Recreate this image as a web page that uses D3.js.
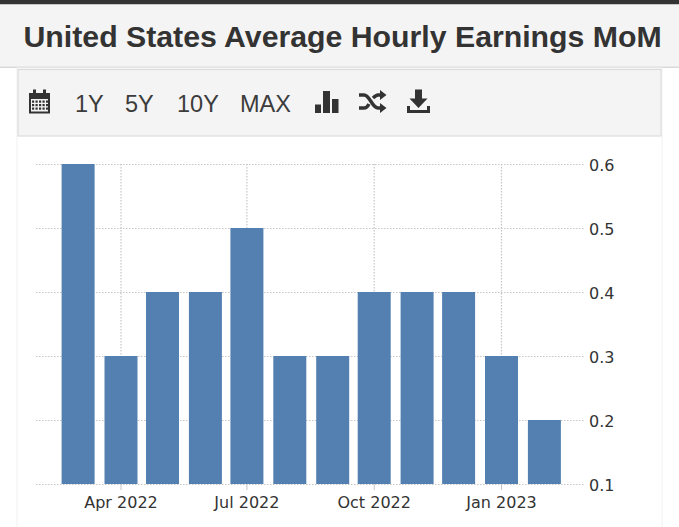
<!DOCTYPE html>
<html><head><meta charset="utf-8">
<script src="https://cdn.jsdelivr.net/npm/d3@7"></script>
<style>html,body{margin:0;padding:0;background:#fff}svg{display:block}</style></head>
<body><svg id="c" width="679" height="527"></svg>
<script>
const titleText = "United States Average Hourly Earnings MoM";
const rangeLabels = ["1Y","5Y","10Y","MAX"];
const months = ["2022-03","2022-04","2022-05","2022-06","2022-07","2022-08","2022-09","2022-10","2022-11","2022-12","2023-01","2023-02"];
const values = [0.6,0.3,0.4,0.4,0.5,0.3,0.3,0.4,0.4,0.4,0.3,0.2];
const yTicks = [0.1,0.2,0.3,0.4,0.5,0.6];
const xTickDates = ["2022-04","2022-07","2022-10","2023-01"];
const xTickLabels = ["Apr 2022","Jul 2022","Oct 2022","Jan 2023"];

const parse = d3.utcParse("%Y-%m");
const svg = d3.select("#c");
const ink = "#333333";

svg.append("rect").attr("width",679).attr("height",4.5).attr("fill","#333");
svg.append("rect").attr("y",4.5).attr("width",679).attr("height",62).attr("fill","#f4f4f4");
svg.append("rect").attr("y",66.5).attr("width",679).attr("height",1.5).attr("fill","#d8d8d8");
svg.append("text").attr("x",23.5).attr("y",47).attr("font-family","Liberation Sans")
  .attr("font-weight",700).attr("font-size",30.25).attr("fill",ink).text(titleText);

// panel edges
svg.append("rect").attr("x",17).attr("y",68).attr("width",645).attr("height",470)
  .attr("fill","#fff").attr("stroke","#f1f1f1");
// toolbar
svg.append("rect").attr("x",18).attr("y",69.5).attr("width",643).attr("height",66.5)
  .attr("fill","#f4f4f4").attr("stroke","#dcdcdc").attr("stroke-width",1.2);

const rangeX = [75,125,177,240];
svg.append("g").selectAll("text").data(rangeLabels).join("text")
  .attr("x",(d,i)=>rangeX[i]).attr("y",111.5)
  .attr("font-family","Liberation Sans").attr("font-size",23.5).attr("fill","#3c3c3c").text(d=>d);

// toolbar icons
const icons = svg.append("g").attr("fill",ink);
// calendar
icons.append("path").attr("fill-rule","evenodd").attr("d",
  "M29 93h21v20.5H29z M31 99v12.5h17V99z");
icons.append("rect").attr("x",33).attr("y",89.5).attr("width",3).attr("height",4);
icons.append("rect").attr("x",43).attr("y",89.5).attr("width",3).attr("height",4);
[100.5,104,107.5].forEach(y=>[32,35.5,39,42.5,46].forEach(x=>
  icons.append("rect").attr("x",x).attr("y",y).attr("width",2.2).attr("height",2.2)));
// bars
icons.append("path").attr("d","M315 104.5h6v8.5h-6z M323 91h7v22h-7z M332 99h6.5v14H332z");
// shuffle
icons.append("path").attr("fill","none").attr("stroke",ink).attr("stroke-width",3.4)
  .attr("d","M359 95h5c6 0 8 13 14 13h3 M359 108h5c2.5 0 4-2 5-4 M373 98c1.5-1.500 3-3 5-3h3");
icons.append("path").attr("d","M380 90l6.500 5-6.500 5z M380 103l6.500 5-6.500 5z");
// download
icons.append("path").attr("d","M415 89.500h7v9h5.500l-9 9.500-9-9.500h5.500z M407 106h3v4h17v-4h3v7h-23z");

// chart scales
const x = d3.scaleUtc().domain([parse("2022-04"),parse("2023-01")]).range([121,501.5]);
const y = d3.scaleLinear().domain([0.1,0.6]).range([484,164]);
const barW = 33;

const grid = svg.append("g").attr("stroke","#c6c6c6").attr("stroke-dasharray","1.5 1.5").attr("stroke-width",1.2);
grid.selectAll("line.h").data(yTicks).join("line").attr("class","h")
  .attr("x1",36).attr("x2",584).attr("y1",d=>y(d)+.5).attr("y2",d=>y(d)+.5);
grid.selectAll("line.v").data(xTickDates).join("line").attr("class","v")
  .attr("x1",d=>x(parse(d))).attr("x2",d=>x(parse(d))).attr("y1",164).attr("y2",484);

svg.append("g").selectAll("rect").data(values).join("rect")
  .attr("x",(d,i)=>x(parse(months[i]))-barW/2)
  .attr("width",barW)
  .attr("y",d=>y(d))
  .attr("height",d=>y(0.1)-y(d))
  .attr("fill","#5380b0");

svg.append("g").selectAll("line").data(xTickDates).join("line")
  .attr("x1",d=>x(parse(d))).attr("x2",d=>x(parse(d))).attr("y1",484).attr("y2",490)
  .attr("stroke","#c4c4c4");

svg.append("g").selectAll("text").data(xTickLabels).join("text")
  .attr("x",(d,i)=>x(parse(xTickDates[i]))).attr("y",508).attr("text-anchor","middle")
  .attr("font-family","DejaVu Sans").attr("font-size",16).attr("fill",ink).text(d=>d);

svg.append("g").selectAll("text").data(yTicks).join("text")
  .attr("x",589).attr("y",d=>y(d)+6.5)
  .attr("font-family","DejaVu Sans").attr("font-size",16).attr("fill",ink).text(d=>d.toFixed(1));
</script></body></html>
